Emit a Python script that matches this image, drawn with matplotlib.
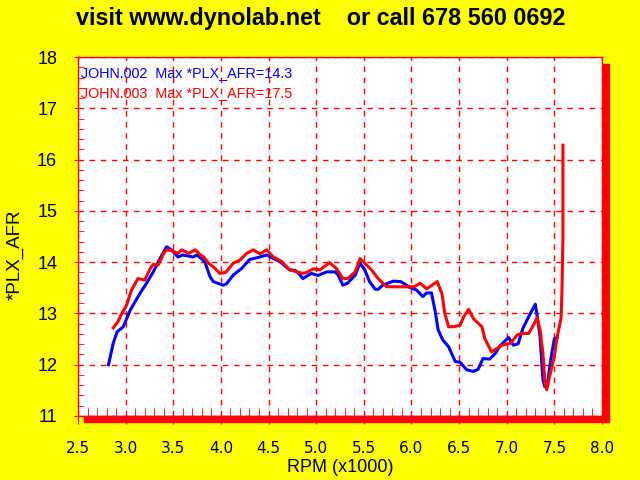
import matplotlib
matplotlib.use("Agg")
import matplotlib.pyplot as plt
from matplotlib.patches import Rectangle
from matplotlib.ticker import MultipleLocator

# JOHN.002 (blue)
rpm_002 = [2.82, 2.87, 2.91, 2.975, 3.05, 3.15, 3.22, 3.29, 3.36, 3.43, 3.48, 3.55, 3.60,
           3.71, 3.75, 3.83, 3.885, 3.92, 4.025, 4.06, 4.13, 4.22, 4.30, 4.41, 4.48, 4.55,
           4.62, 4.72, 4.78, 4.83, 4.86, 4.95, 5.02, 5.11, 5.20, 5.23, 5.28, 5.33, 5.41,
           5.46, 5.51, 5.56, 5.62, 5.65, 5.70, 5.81, 5.89, 5.98, 6.05, 6.12, 6.16, 6.21,
           6.25, 6.28, 6.33, 6.39, 6.46, 6.51, 6.58, 6.65, 6.70, 6.75, 6.82, 6.88, 6.93,
           7.02, 7.07, 7.12, 7.17, 7.24, 7.30, 7.32, 7.35, 7.38, 7.40, 7.43, 7.47, 7.50, 7.53]
afr_002 = [12.0, 12.42, 12.64, 12.74, 13.07, 13.39, 13.59, 13.81, 14.07, 14.30, 14.24, 14.10,
           14.14, 14.10, 14.14, 14.01, 13.72, 13.62, 13.55, 13.58, 13.75, 13.88, 14.05, 14.10,
           14.14, 14.07, 14.01, 13.85, 13.84, 13.75, 13.68, 13.78, 13.74, 13.81, 13.81, 13.75,
           13.55, 13.59, 13.75, 13.98, 13.85, 13.62, 13.47, 13.47, 13.55, 13.63, 13.62, 13.51,
           13.46, 13.33, 13.40, 13.40, 13.03, 12.68, 12.48, 12.35, 12.06, 12.05, 11.90, 11.87,
           11.91, 12.12, 12.11, 12.22, 12.37, 12.53, 12.38, 12.41, 12.71, 12.97, 13.18, 12.94,
           12.55, 11.70, 11.57, 11.67, 12.19, 12.51, 12.53]

# JOHN.003 (red)
rpm_003 = [2.87, 2.92, 2.96, 3.01, 3.06, 3.13, 3.20, 3.26, 3.29, 3.34, 3.40, 3.43, 3.49,
           3.55, 3.59, 3.66, 3.73, 3.78, 3.82, 3.87, 3.92, 3.99, 4.05, 4.13, 4.20, 4.27,
           4.34, 4.41, 4.48, 4.55, 4.64, 4.72, 4.78, 4.86, 4.90, 4.97, 5.04, 5.14, 5.21,
           5.28, 5.33, 5.41, 5.46, 5.51, 5.58, 5.65, 5.74, 5.84, 5.98, 6.03, 6.09, 6.16,
           6.23, 6.27, 6.32, 6.35, 6.39, 6.44, 6.51, 6.55, 6.60, 6.65, 6.70, 6.74, 6.77,
           6.84, 6.90, 6.95, 7.04, 7.11, 7.16, 7.23, 7.28, 7.32, 7.35, 7.38, 7.40, 7.42,
           7.45, 7.50, 7.53, 7.57, 7.58, 7.59, 7.59]
afr_003 = [12.72, 12.84, 13.0, 13.16, 13.45, 13.68, 13.65, 13.88, 13.96, 13.94, 14.17, 14.24,
           14.22, 14.17, 14.24, 14.17, 14.24, 14.15, 14.10, 13.98, 13.91, 13.78, 13.80, 13.98,
           14.04, 14.17, 14.24, 14.16, 14.24, 14.10, 14.01, 13.85, 13.82, 13.78, 13.80, 13.87,
           13.85, 13.99, 13.88, 13.68, 13.68, 13.81, 14.07, 13.98, 13.85, 13.68, 13.52, 13.52,
           13.52, 13.52, 13.59, 13.48, 13.57, 13.62, 13.39, 13.0, 12.74, 12.74, 12.77, 12.94,
           13.08, 12.90, 12.81, 12.74, 12.51, 12.25, 12.32, 12.38, 12.42, 12.58, 12.61, 12.61,
           12.77, 12.92, 12.68, 12.22, 11.67, 11.51, 11.77, 12.16, 12.55, 12.90, 13.46, 14.5, 16.28]

legend_002 = "JOHN.002  Max *PLX_AFR=14.3"
legend_003 = "JOHN.003  Max *PLX_AFR=17.5"

fig = plt.figure(figsize=(6.4, 4.8), dpi=100, facecolor="#ffff00")
ax = fig.add_axes([78/640, 1 - 416/480, 524/640, 359/480])
ax.set_facecolor("white")

ax.plot(rpm_002, afr_002, color="#0000ff", lw=2.2, zorder=3)
ax.plot(rpm_003, afr_003, color="#ff0000", lw=2.2, zorder=4)

ax.set_xlim(2.5, 8.0)
ax.set_ylim(11, 18)
ax.xaxis.set_major_locator(MultipleLocator(0.5))
ax.xaxis.set_minor_locator(MultipleLocator(0.1))
ax.yaxis.set_major_locator(MultipleLocator(1))
ax.yaxis.set_minor_locator(MultipleLocator(0.2))
ax.grid(True, which="major", color="red", ls=(0, (4, 4)), lw=1)

ax.set_xticklabels([f"{v:.1f}" for v in ax.get_xticks()])
ax.tick_params(axis="x", which="major", direction="out", length=6, color="red",
               labelsize=11, pad=12, labelcolor="black")
ax.tick_params(axis="x", which="minor", direction="in", length=6, color="red")
ax.tick_params(axis="y", which="major", direction="out", length=3, color="red",
               labelsize=13, pad=12)
ax.tick_params(axis="y", which="minor", direction="in", length=4, color="red")
for lab in ax.get_yticklabels():
    lab.set_family("Liberation Sans")

for s in ax.spines.values():
    s.set_color("red")
    s.set_linewidth(1)

ax.set_xlabel("RPM (x1000)", fontsize=13, family="Liberation Sans", labelpad=2)
fig.text(15/640, 1 - 255/480, "*PLX_AFR", rotation=90, fontsize=13.5,
         family="Liberation Sans", ha="center", va="center")

ax.text(0.005, 0.955, legend_002, transform=ax.transAxes, color="#0000ff",
        fontsize=10.4, family="Liberation Sans", va="center")
ax.text(0.005, 0.9, legend_003, transform=ax.transAxes, color="#ff0000",
        fontsize=10.4, family="Liberation Sans", va="center")

# thick red "shadow" frame on right and bottom
fig.add_artist(Rectangle((84/640, 1 - 422/480), 525/640, 6/480,
                         transform=fig.transFigure, color="red", zorder=5))
fig.add_artist(Rectangle((603/640, 1 - 422/480), 6/640, 358/480,
                         transform=fig.transFigure, color="red", zorder=5))

fig.text(321/640, 1 - 18/480, "visit www.dynolab.net    or call 678 560 0692",
         ha="center", va="center", fontsize=16.8, fontweight="bold",
         family="Liberation Sans")

fig.savefig("out.png", dpi=100, facecolor=fig.get_facecolor())
